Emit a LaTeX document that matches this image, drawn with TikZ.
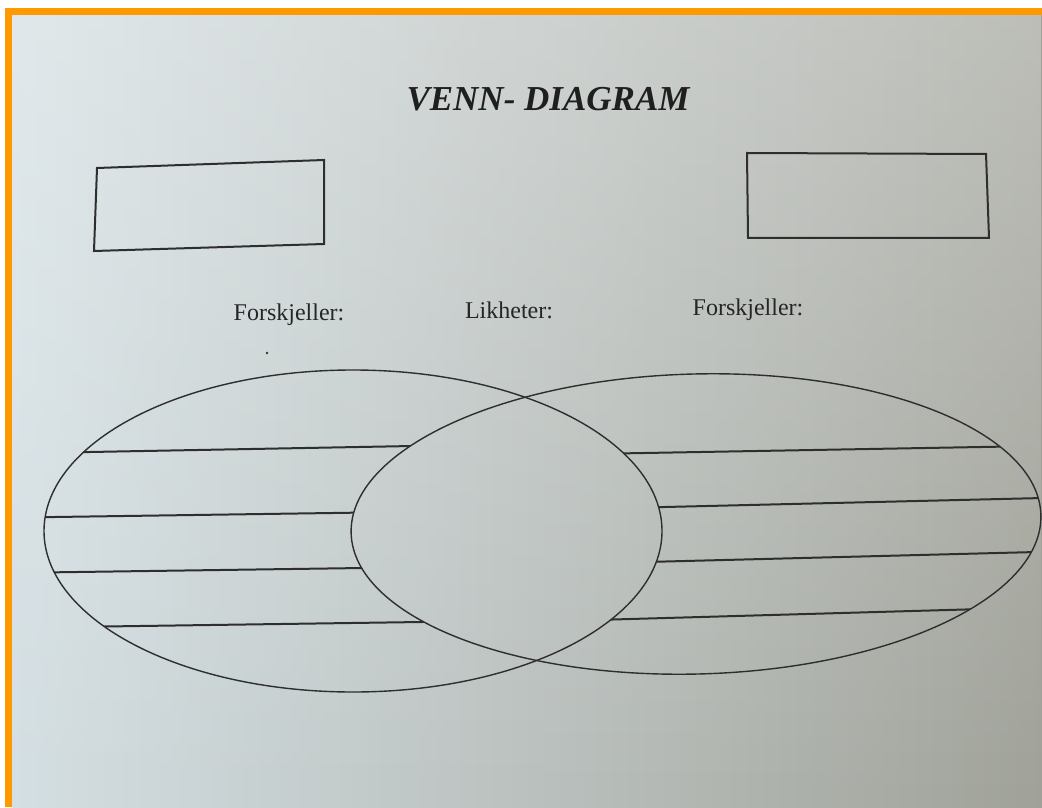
\documentclass[tikz,border=0pt]{standalone}
\usepackage{fontspec}
\setmainfont{Liberation Serif}
\usetikzlibrary{fadings}
\tikzfading[name=downfade, top color=transparent!0, bottom color=transparent!100]
\begin{document}
\begin{tikzpicture}[x=0.5pt,y=-0.5pt,
  ink/.style={draw=black!82},
  ring/.style={ink, line width=0.7pt},
  rule/.style={ink, line width=1pt},
  frame/.style={ink, line width=1pt, line join=miter},
  lbl/.style={text=black!85, font=\fontsize{12}{14}\selectfont, inner sep=0pt, anchor=base},
  ttl/.style={text=black!88, font=\fontsize{17.5}{20}\selectfont\bfseries\itshape, inner sep=0pt, anchor=base}]
\definecolor{paperL}{HTML}{D4DFE3}
\definecolor{paperM}{HTML}{BCC8CC}
\definecolor{paperR}{HTML}{A0A299}
\definecolor{rim}{HTML}{FF9900}
% canvas
\useasboundingbox (0,0) rectangle (1042,807);
\fill[white] (0,0) rectangle (1042,807);
\shade[left color=paperL, middle color=paperM, right color=paperR] (12,15) rectangle (1042,807);
\fill[white, fill opacity=0.3, path fading=downfade] (12,15) rectangle (1042,807);
\fill[rim] (5,8) rectangle (1042,15);
\fill[rim] (5,8) rectangle (12,807);
% title
\node[ttl] (title) at (548,111) {VENN- DIAGRAM};
% boxes
\coordinate (b1a) at (97,168); \coordinate (b1b) at (324,160);
\coordinate (b1c) at (324,244); \coordinate (b1d) at (94,251);
\draw[frame] (b1a) -- (b1b) -- (b1c) -- (b1d) -- cycle;
\coordinate (b2a) at (747,153); \coordinate (b2b) at (986,154);
\coordinate (b2c) at (989,238); \coordinate (b2d) at (748,238);
\draw[frame] (b2a) -- (b2b) -- (b2c) -- (b2d) -- cycle;
% labels
\node[lbl] (forL) at (289,321) {Forskjeller:};
\node[lbl] (likh) at (509,318) {Likheter:};
\node[lbl] (forR) at (748,315) {Forskjeller:};
\fill[black!80] (267,353) circle (1.3);
% ellipses
\coordinate (cL) at (353,531);
\draw[ring] (cL) ellipse (309 and 161);
\draw[ring] (1040.88,514.97)
  .. controls (1043.05,597.78) and (890.40,668.96) .. (699.93,673.95)
  .. controls (509.46,678.94) and (353.29,615.84) .. (351.12,533.03)
  .. controls (348.95,450.22) and (501.60,379.04) .. (692.07,374.05)
  .. controls (882.54,369.06) and (1038.71,432.16) .. (1040.88,514.97) -- cycle;
% writing lines
\begin{scope}[even odd rule]
\clip (cL) ellipse (309 and 161)
  (1040.88,514.97)
  .. controls (1043.05,597.78) and (890.40,668.96) .. (699.93,673.95)
  .. controls (509.46,678.94) and (353.29,615.84) .. (351.12,533.03)
  .. controls (348.95,450.22) and (501.60,379.04) .. (692.07,374.05)
  .. controls (882.54,369.06) and (1038.71,432.16) .. (1040.88,514.97) -- cycle;
\draw[rule] (20,453.3) -- (520,444.0);
\draw[rule] (20,517.5) -- (520,510.3);
\draw[rule] (20,572.8) -- (520,565.8);
\draw[rule] (20,627.7) -- (520,620.6);
\draw[rule] (560,454.5) -- (1060,445.6);
\draw[rule] (560,509.5) -- (1060,497.6);
\draw[rule] (560,564.2) -- (1060,551.4);
\draw[rule] (560,621.0) -- (1060,606.8);
\end{scope}
\end{tikzpicture}
\end{document}
